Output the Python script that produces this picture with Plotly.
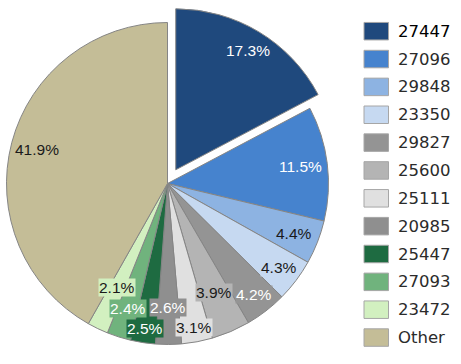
import math
import plotly.graph_objects as go

# ---------------- data ----------------
categories = ["27447", "27096", "29848", "23350", "29827", "25600",
              "25111", "20985", "25447", "27093", "23472", "Other"]
shares = [17.3, 11.5, 4.4, 4.3, 4.2, 3.9, 3.1, 2.6, 2.5, 2.4, 2.1, 41.9]

# ---------------- style ----------------
colors = ["#1f497d", "#4683ce", "#8db3e2", "#c6d9f1", "#949494", "#b4b4b4",
          "#e0e0e0", "#8f8f8f", "#1e6b41", "#70b37d", "#d2f0c0", "#c4bd97"]
label_radius = [0.865, 0.83, 0.845, 0.865, 0.874, 0.736, 0.91, 0.77, 0.91, 0.815, 0.72, 0.835]
label_boxed = [False, False, True, True, True, True, True, True, True, True, True, False]

W, H = 461, 364
CX, CY, R = 167.5, 183.5, 161.0   # pie centre / radius in pixels
PULL = 16.0                       # explode offset of first slice in pixels
EDGE = "#858585"


def is_dark(hexcol):
    h = hexcol.lstrip("#")
    r, g, b = int(h[0:2], 16), int(h[2:4], 16), int(h[4:6], 16)
    return (0.299 * r + 0.587 * g + 0.114 * b) < 155


total = sum(shares)
mids = []
acc = 0.0
for v in shares:
    mids.append((acc + v / 2) / total * 2 * math.pi)
    acc += v

# offset of the exploded slice
pdx = PULL * math.sin(mids[0])
pdy = -PULL * math.cos(mids[0])


def dom(cx, cy, r):
    return dict(x=[(cx - r) / W, (cx + r) / W], y=[1 - (cy + r) / H, 1 - (cy - r) / H])


fig = go.Figure()

# main pie (first slice hidden, drawn exploded separately)
fig.add_trace(go.Pie(
    labels=categories, values=shares, sort=False, direction="clockwise", rotation=0,
    marker=dict(colors=["rgba(0,0,0,0)"] + colors[1:],
                line=dict(color=[EDGE] * len(shares), width=[0] + [1] * (len(shares) - 1))),
    textinfo="none", hoverinfo="label+percent", showlegend=False,
    domain=dom(CX, CY, R),
))

# exploded first slice
fig.add_trace(go.Pie(
    labels=[categories[0], "rest"], values=[shares[0], total - shares[0]],
    sort=False, direction="clockwise", rotation=0,
    marker=dict(colors=[colors[0], "rgba(0,0,0,0)"],
                line=dict(color=[EDGE, "rgba(0,0,0,0)"], width=[1, 0])),
    textinfo="none", hoverinfo="skip", showlegend=False,
    domain=dom(CX + pdx, CY + pdy, R),
))

annotations = []
for i, (v, c) in enumerate(zip(shares, colors)):
    cx, cy = (CX + pdx, CY + pdy) if i == 0 else (CX, CY)
    rr = R * label_radius[i]
    px = cx + rr * math.sin(mids[i])
    py = cy - rr * math.cos(mids[i])
    annotations.append(dict(
        x=px / W, y=1 - py / H, xref="paper", yref="paper", showarrow=False,
        text=f"{v:.1f}%",
        font=dict(family="Liberation Sans", size=15.5,
                  color="#ffffff" if is_dark(c) else "#1a1a1a"),
        bgcolor=c if label_boxed[i] else None, borderpad=0,
        xanchor="center", yanchor="middle",
    ))

# legend (drawn as shapes + text)
shapes = []
LX0, LX1 = 364, 388.5
LY0, STEP, SH = 31.2, 27.85, 17.5
for i, (name, c) in enumerate(zip(categories, colors)):
    yc = LY0 + i * STEP
    shapes.append(dict(type="rect", xref="paper", yref="paper",
                       x0=LX0 / W, x1=LX1 / W,
                       y0=1 - (yc + SH / 2) / H, y1=1 - (yc - SH / 2) / H,
                       fillcolor=c, line=dict(color="#a6a6a6", width=1)))
    annotations.append(dict(
        x=396 / W, y=1 - yc / H, xref="paper", yref="paper", showarrow=False,
        text=name, xanchor="left", yanchor="middle",
        font=dict(family="DejaVu Sans", size=16.5,
                  color="#000000" if i == 0 else "#2b2b2b"),
    ))

fig.update_layout(
    width=W, height=H, margin=dict(l=0, r=0, t=0, b=0),
    paper_bgcolor="white", plot_bgcolor="white",
    annotations=annotations, shapes=shapes, showlegend=False,
)

fig.write_html("out.html", config={"displayModeBar": False},
               post_script="document.body.style.margin='0px';")
